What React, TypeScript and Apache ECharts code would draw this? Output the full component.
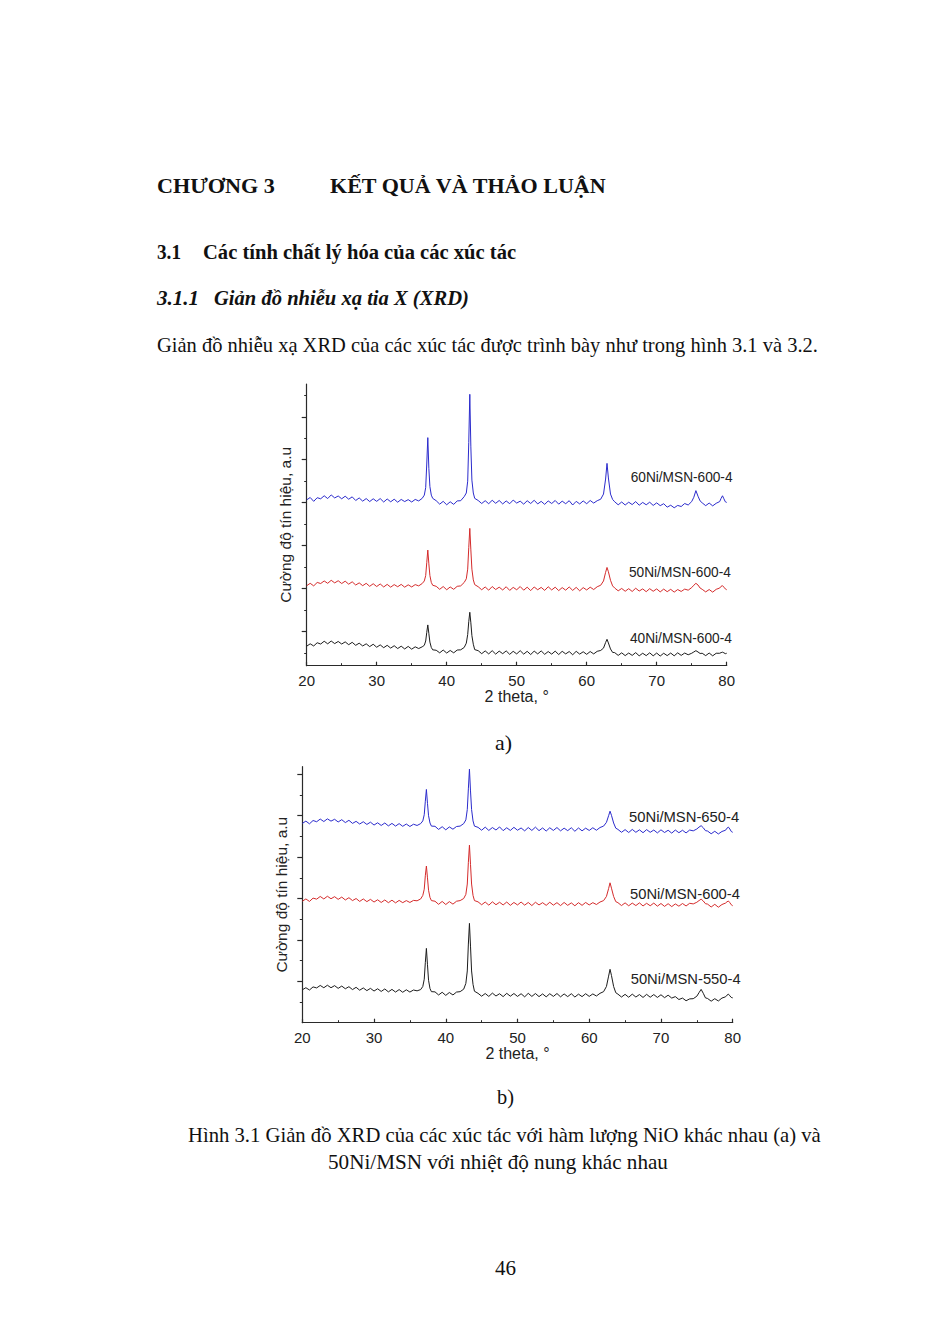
import React, { useEffect, useRef } from "react";
import * as echarts from "echarts";

// 2-theta sampling positions (degrees), shared by all six patterns
const X = [
  20, 20.5, 21, 21.5, 22, 22.5, 23, 23.5, 24, 24.5, 25, 25.5, 26, 26.5, 27, 27.5, 28, 28.5, 29, 29.5,
  30, 30.5, 31, 31.5, 32, 32.5, 33, 33.5, 34, 34.5, 35, 35.5, 36, 36.5,
  36.8, 37.0, 37.15, 37.3, 37.45, 37.6, 37.8, 38.0,
  38.5, 39, 39.5, 40, 40.5, 41, 41.5, 42, 42.5,
  42.8, 43.0, 43.15, 43.3, 43.45, 43.6, 43.8, 44.0,
  44.5, 45, 45.5, 46, 46.5, 47, 47.5, 48, 48.5, 49, 49.5, 50, 50.5, 51, 51.5, 52, 52.5, 53, 53.5, 54,
  54.5, 55, 55.5, 56, 56.5, 57, 57.5, 58, 58.5, 59, 59.5, 60, 60.5, 61, 61.5, 62,
  62.4, 62.7, 62.9, 63.1, 63.4, 63.7,
  64, 64.5, 65, 65.5, 66, 66.5, 67, 67.5, 68, 68.5, 69, 69.5, 70, 70.5, 71, 71.5, 72, 72.5, 73, 73.5, 74, 74.5, 75,
  75.3, 75.6, 75.9, 76.2,
  76.5, 77, 77.5, 78, 78.5, 79,
  79.2, 79.4, 79.6, 79.8, 80,
];

// ---- Figure a) intensities (a.u., stacked offsets as drawn)
const A_60Ni_600 = [
  61.3, 62.4, 60.6, 62.3, 61.8, 63.2, 61.9, 63.6, 62.2, 63.1,
  61.8, 63.0, 61.6, 62.7, 61.0, 62.2, 60.7, 61.9, 60.5, 61.8,
  60.6, 61.9, 60.3, 61.7, 60.4, 61.6, 60.2, 61.5, 60.5, 61.4,
  60.3, 61.5, 60.8, 62.0,
  63.5, 67.0, 78.0, 90.3, 76.0, 67.5, 63.5, 62.0,
  60.9, 59.3, 60.6, 59.0, 60.4, 59.2, 60.8, 60.9, 62.8,
  64.5, 70.0, 88.0, 110.5, 86.0, 70.5, 64.5, 62.0,
  61.0, 59.6, 60.9, 59.5, 61.1, 59.7, 61.0, 59.4, 60.8, 59.5,
  61.2, 59.8, 60.7, 59.3, 60.9, 59.6, 61.1, 59.4, 60.6, 59.2,
  60.8, 59.6, 61.0, 59.3, 60.7, 59.5, 60.9, 58.9, 60.6, 59.4,
  60.8, 59.5, 61.0, 59.8, 60.9, 61.6,
  64.0, 71.0, 78.3, 71.5, 64.0, 61.5,
  60.4, 59.0, 60.3, 58.9, 60.2, 59.1, 60.5, 58.8, 60.1, 59.0,
  60.2, 58.7, 59.9, 58.6, 59.5, 57.9, 58.8, 57.6, 58.7, 58.2,
  59.6, 58.9, 60.5,
  62.5, 65.6, 63.0, 60.8,
  59.9, 58.6, 59.8, 58.5, 59.7, 60.5,
  62.0, 63.2, 61.8, 60.4, 60.1,
];
const A_50Ni_600 = [
  21.3, 22.4, 21.2, 22.8, 22.3, 23.5, 22.4, 23.8, 22.6, 23.6,
  22.3, 23.4, 22.0, 23.1, 21.6, 22.6, 21.3, 22.4, 21.0, 22.2,
  20.9, 22.1, 20.7, 21.9, 20.6, 21.8, 20.8, 21.9, 20.6, 21.7,
  20.7, 21.8, 21.2, 22.3,
  23.5, 26.0, 32.0, 37.9, 31.5, 26.0, 22.8, 21.5,
  21.0, 19.6, 20.9, 19.4, 20.7, 19.6, 21.0, 21.2, 22.8,
  24.5, 29.0, 39.0, 48.0, 38.0, 29.0, 24.0, 21.8,
  20.8, 19.4, 20.7, 19.2, 20.9, 19.5, 20.6, 19.3, 20.8, 19.1,
  20.5, 19.4, 20.9, 19.2, 20.6, 19.0, 20.7, 19.4, 20.5, 19.1,
  20.8, 19.3, 20.6, 19.0, 20.4, 19.2, 20.7, 19.1, 20.5, 18.9,
  20.4, 19.3, 20.6, 19.5, 20.8, 21.5,
  23.5, 27.5, 29.8, 27.8, 23.8, 21.2,
  20.2, 18.9, 20.0, 18.7, 19.9, 18.6, 20.1, 18.8, 19.8, 18.5,
  19.9, 18.7, 19.8, 18.4, 19.7, 18.5, 19.6, 18.3, 19.5, 18.6,
  19.7, 19.2, 20.4,
  21.5, 22.4, 21.6, 20.2,
  19.6, 18.4, 19.5, 18.3, 19.6, 20.2,
  21.0, 21.3, 20.6, 19.8, 19.4,
];
const A_40Ni_600 = [
  -6.9, -5.8, -6.8, -5.3, -5.9, -4.6, -5.8, -4.5, -5.7, -4.7,
  -5.9, -4.9, -6.2, -5.1, -6.5, -5.5, -6.8, -5.8, -7.1, -6.0,
  -7.4, -6.3, -7.6, -6.5, -7.8, -6.7, -8.0, -6.9, -8.2, -7.0,
  -8.3, -7.2, -8.0, -7.2,
  -6.5, -4.5, -0.5, 3.0, -1.0, -5.0, -7.5, -8.6,
  -8.8, -10.0, -8.7, -10.1, -8.9, -10.0, -8.7, -8.6, -7.5,
  -5.5, -1.5, 4.5, 8.9, 4.0, -2.0, -6.0, -8.5,
  -9.0, -10.4, -9.1, -10.5, -9.0, -10.6, -9.2, -10.4, -9.1, -10.7,
  -9.3, -10.5, -9.0, -10.6, -9.3, -10.8, -9.2, -10.5, -9.1, -10.7,
  -9.4, -10.6, -9.2, -10.8, -9.3, -10.5, -9.4, -10.9, -9.3, -10.6,
  -9.5, -10.7, -9.4, -10.5, -9.3, -8.9,
  -7.8, -5.2, -3.7, -5.4, -8.2, -9.8,
  -9.9, -11.2, -10.0, -11.3, -10.1, -11.2, -9.9, -11.4, -10.2, -11.3,
  -10.0, -11.4, -10.1, -11.5, -10.2, -11.3, -10.1, -11.4, -10.0, -11.2,
  -10.1, -10.9, -10.2,
  -9.6, -9.0, -9.6, -10.3,
  -10.2, -11.3, -10.1, -11.4, -10.2, -10.2,
  -9.9, -9.7, -10.0, -10.4, -10.2,
];

// ---- Figure b) intensities
const B_50Ni_650 = [
  96.3, 97.4, 96.1, 97.7, 97.1, 98.4, 97.2, 98.5, 97.4, 98.3,
  97.0, 98.1, 96.7, 97.8, 96.3, 97.3, 96.0, 97.1, 95.8, 96.9,
  95.5, 96.6, 95.3, 96.5, 95.1, 96.3, 95.0, 96.2, 94.9, 96.0,
  94.8, 95.9, 95.3, 96.2,
  97.5, 100.5, 107.0, 112.7, 106.0, 100.0, 96.5, 95.0,
  94.9, 93.4, 94.7, 93.2, 94.6, 93.5, 94.8, 95.0, 96.2,
  98.0, 103.0, 113.0, 122.5, 112.0, 103.0, 97.5, 95.0,
  94.4, 93.0, 94.5, 92.9, 94.3, 93.1, 94.6, 92.8, 94.2, 92.9,
  94.4, 93.0, 94.1, 92.7, 94.3, 92.9, 94.5, 92.8, 94.1, 92.6,
  94.2, 92.9, 94.3, 92.7, 94.0, 92.8, 94.2, 92.5, 94.1, 92.7,
  94.0, 92.9, 94.2, 93.0, 94.3, 95.0,
  96.8, 100.0, 102.2, 100.2, 96.5, 94.0,
  93.4, 92.0, 93.3, 91.9, 93.4, 92.0, 93.2, 91.8, 93.3, 92.0,
  93.1, 91.7, 93.2, 91.9, 93.0, 91.6, 93.1, 91.8, 93.0, 91.7,
  93.1, 92.7, 93.6,
  94.5, 95.2, 94.2, 92.8,
  92.6, 91.3, 92.5, 91.2, 92.4, 93.0,
  94.0, 94.5, 93.6, 92.4, 92.0,
];
const B_50Ni_600 = [
  58.7, 59.8, 58.6, 60.2, 59.7, 61.0, 59.8, 61.1, 59.9, 60.9,
  59.6, 60.7, 59.3, 60.4, 59.0, 60.0, 58.6, 59.8, 58.5, 59.6,
  58.3, 59.4, 58.1, 59.3, 58.0, 59.2, 57.9, 59.1, 58.0, 59.0,
  58.1, 59.1, 58.9, 59.8,
  61.5, 64.5, 71.0, 75.7, 70.0, 64.0, 60.5, 59.0,
  58.7, 57.2, 58.6, 57.1, 58.5, 57.3, 58.7, 59.0, 60.0,
  62.0, 67.0, 77.5, 85.8, 76.5, 67.0, 61.5, 59.0,
  58.4, 57.0, 58.3, 56.8, 58.4, 57.0, 58.2, 56.9, 58.3, 56.7,
  58.1, 56.9, 58.3, 56.8, 58.1, 56.6, 58.2, 56.9, 58.0, 56.7,
  58.2, 56.8, 58.0, 56.6, 58.1, 56.7, 57.9, 56.5, 58.0, 56.7,
  58.1, 56.9, 58.0, 57.1, 58.3, 59.0,
  61.0, 64.8, 67.6, 65.0, 61.0, 58.5,
  58.0, 56.6, 57.9, 56.5, 57.8, 56.6, 57.9, 56.4, 57.7, 56.5,
  57.8, 56.3, 57.6, 56.2, 57.5, 56.1, 57.4, 56.3, 57.6, 56.4,
  57.7, 57.4, 58.2,
  59.0, 59.7, 58.8, 57.5,
  57.3, 55.9, 57.2, 55.8, 57.1, 57.8,
  58.4, 58.8, 58.0, 57.0, 56.5,
];
const B_50Ni_550 = [
  15.9, 16.9, 15.8, 17.3, 16.8, 18.0, 16.9, 18.1, 16.9, 17.9,
  16.6, 17.7, 16.4, 17.4, 16.0, 17.1, 15.7, 16.8, 15.5, 16.6,
  15.3, 16.4, 15.1, 16.3, 14.9, 16.1, 14.8, 16.0, 14.7, 15.9,
  14.8, 15.8, 15.4, 16.0,
  17.5, 21.0, 29.0, 35.9, 28.0, 20.5, 16.5, 15.0,
  14.9, 13.4, 14.7, 13.2, 14.6, 13.4, 14.8, 15.0, 16.2,
  19.0, 25.0, 38.0, 48.0, 37.0, 25.0, 18.5, 15.2,
  14.2, 12.8, 14.1, 12.7, 14.3, 12.9, 14.0, 12.6, 14.2, 12.8,
  14.1, 12.7, 14.0, 12.5, 14.2, 12.7, 14.1, 12.6, 13.9, 12.5,
  14.0, 12.7, 14.1, 12.5, 13.9, 12.6, 14.0, 12.4, 13.8, 12.6,
  14.0, 12.7, 13.9, 12.9, 14.2, 15.0,
  17.5, 22.5, 25.8, 22.8, 17.5, 14.5,
  13.8, 12.4, 13.7, 12.3, 13.8, 12.4, 13.6, 12.2, 13.7, 12.3,
  13.6, 12.2, 13.5, 12.1, 13.3, 11.9, 12.6, 11.2, 11.9, 10.6,
  11.5, 11.6, 12.8,
  14.5, 16.1, 14.2, 12.0,
  11.7, 10.4, 11.6, 10.5, 11.9, 12.5,
  13.3, 13.8, 13.0, 12.2, 12.0,
];

const NAMES_A = ["60Ni/MSN-600-4", "50Ni/MSN-600-4", "40Ni/MSN-600-4"];
const NAMES_B = ["50Ni/MSN-650-4", "50Ni/MSN-600-4", "50Ni/MSN-550-4"];
const X_NAME = "2 theta, \u00b0";
const Y_NAME = "Cường độ tín hiệu, a.u";
const Y_MAJOR_A = [0, 20, 40, 60, 80, 100];
const Y_MINOR_A = [-10, 10, 30, 50, 70, 90, 110];
const Y_MAJOR_B = [20, 40, 60, 80, 100, 120];
const Y_MINOR_B = [10, 30, 50, 70, 90, 110];

const COLORS = ["#2b2bcc", "#d42b2b", "#1c1c1c"];
const AXIS = "#2a2a2a";
const SERIF = '"Liberation Serif", "Times New Roman", serif';
const SANS = '"Liberation Sans", Arial, sans-serif';

const measureCtx = document.createElement("canvas").getContext("2d") as CanvasRenderingContext2D;

function fitText(text: string, left: number, right: number, cy: number, font: string, fill = "#111") {
  measureCtx.font = font;
  const w = measureCtx.measureText(text).width || 1;
  return {
    type: "text",
    x: left,
    y: cy,
    scaleX: (right - left) / w,
    silent: true,
    style: { text, font, fill, textAlign: "left", textVerticalAlign: "middle", align: "left", verticalAlign: "middle" },
  };
}

function xAxis(grid: number) {
  return {
    type: "value", gridIndex: grid, min: 20, max: 80, interval: 10,
    axisLine: { show: true, onZero: false, lineStyle: { color: AXIS, width: 1.2 } },
    axisTick: { show: true, inside: true, length: 4, lineStyle: { color: AXIS, width: 1.2 } },
    minorTick: { show: true, splitNumber: 2, length: 2.5, lineStyle: { color: AXIS, width: 1 } },
    splitLine: { show: false }, minorSplitLine: { show: false },
    axisLabel: { fontFamily: SANS, fontSize: 15, color: "#222", margin: 7 },
    name: X_NAME, nameLocation: "middle", nameGap: 23,
    nameTextStyle: { fontFamily: SANS, fontSize: 16, color: "#222" },
  };
}
function yMajor(grid: number, min: number, max: number, ticks: number[]) {
  return {
    type: "value", gridIndex: grid, min, max, position: "left", offset: 0,
    axisLine: { show: true, onZero: false, lineStyle: { color: AXIS, width: 1.2 } },
    axisTick: { show: true, inside: false, length: 5, customValues: ticks, lineStyle: { color: AXIS, width: 1.2 } },
    axisLabel: { show: false }, splitLine: { show: false },
    name: Y_NAME, nameLocation: "middle", nameGap: 13, nameRotate: 90,
    nameTextStyle: { fontFamily: SANS, fontSize: 15.5, color: "#222" },
  };
}
function yMinor(grid: number, min: number, max: number, ticks: number[]) {
  return {
    type: "value", gridIndex: grid, min, max, position: "left", offset: 0,
    axisLine: { show: false, onZero: false },
    axisTick: { show: true, inside: false, length: 2.5, customValues: ticks, lineStyle: { color: AXIS, width: 1 } },
    axisLabel: { show: false }, splitLine: { show: false },
  };
}
function line(values: number[], color: string, xi: number, yi: number) {
  return {
    type: "line", xAxisIndex: xi, yAxisIndex: yi, silent: true,
    data: X.map((x, i) => [x, values[i]]),
    showSymbol: false, symbol: "none",
    lineStyle: { color, width: 1 }, itemStyle: { color },
  };
}

export default function App() {
  const ref = useRef<HTMLDivElement>(null);
  useEffect(() => {
    const chart = echarts.init(ref.current as HTMLDivElement, null, { renderer: "svg", width: 943, height: 1333 });
    const B22 = `bold 22px ${SERIF}`;
    const B21 = `bold 20.6px ${SERIF}`;
    const BI21 = `italic bold 20.6px ${SERIF}`;
    const R21 = `20.6px ${SERIF}`;
    const S14 = `14px ${SANS}`;
    const S15 = `15px ${SANS}`;
    const graphic = [
      fitText("CHƯƠNG 3", 157, 275, 186, B22),
      fitText("KẾT QUẢ VÀ THẢO LUẬN", 330, 607, 186, B22),
      fitText("3.1", 157, 181, 252, B21),
      fitText("Các tính chất lý hóa của các xúc tác", 203, 516, 252, B21),
      fitText("3.1.1", 157, 199, 298, BI21),
      fitText("Giản đồ nhiễu xạ tia X (XRD)", 214, 469, 298, BI21),
      fitText("Giản đồ nhiễu xạ XRD của các xúc tác được trình bày như trong hình 3.1 và 3.2.", 157, 818, 345, R21),
      fitText("a)", 495, 512, 743, R21),
      fitText("b)", 497, 514, 1097, R21),
      fitText("Hình 3.1 Giản đồ XRD của các xúc tác với hàm lượng NiO khác nhau (a) và", 188, 821, 1135, R21),
      fitText("50Ni/MSN với nhiệt độ nung khác nhau", 328, 668, 1162, R21),
      fitText("46", 495, 516, 1268, R21),
      fitText(NAMES_A[0], 630.7, 732.7, 476.7, S14, "#222"),
      fitText(NAMES_A[1], 629, 731, 571.7, S14, "#222"),
      fitText(NAMES_A[2], 630, 732, 638.3, S14, "#222"),
      fitText(NAMES_B[0], 629, 739.3, 817.3, S15, "#222"),
      fitText(NAMES_B[1], 630, 740, 894, S15, "#222"),
      fitText(NAMES_B[2], 630.7, 740.7, 979, S15, "#222"),
    ];
    chart.setOption({
      animation: false,
      backgroundColor: "#ffffff",
      grid: [
        { left: 306.7, top: 384, width: 420, height: 281.7 },
        { left: 302.3, top: 766.7, width: 430.4, height: 256 },
      ],
      xAxis: [xAxis(0), xAxis(1)],
      yAxis: [
        yMajor(0, -16, 115.3, Y_MAJOR_A),
        yMinor(0, -16, 115.3, Y_MINOR_A),
        yMajor(1, 0, 123.7, Y_MAJOR_B),
        yMinor(1, 0, 123.7, Y_MINOR_B),
      ],
      series: [
        line(A_60Ni_600, COLORS[0], 0, 0),
        line(A_50Ni_600, COLORS[1], 0, 0),
        line(A_40Ni_600, COLORS[2], 0, 0),
        line(B_50Ni_650, COLORS[0], 1, 2),
        line(B_50Ni_600, COLORS[1], 1, 2),
        line(B_50Ni_550, COLORS[2], 1, 2),
      ],
      graphic,
    });
    return () => chart.dispose();
  }, []);
  return (
    <div
      ref={ref}
      style={{ position: "absolute", left: 0, top: 0, width: 943, height: 1333, background: "#fff" }}
    />
  );
}
